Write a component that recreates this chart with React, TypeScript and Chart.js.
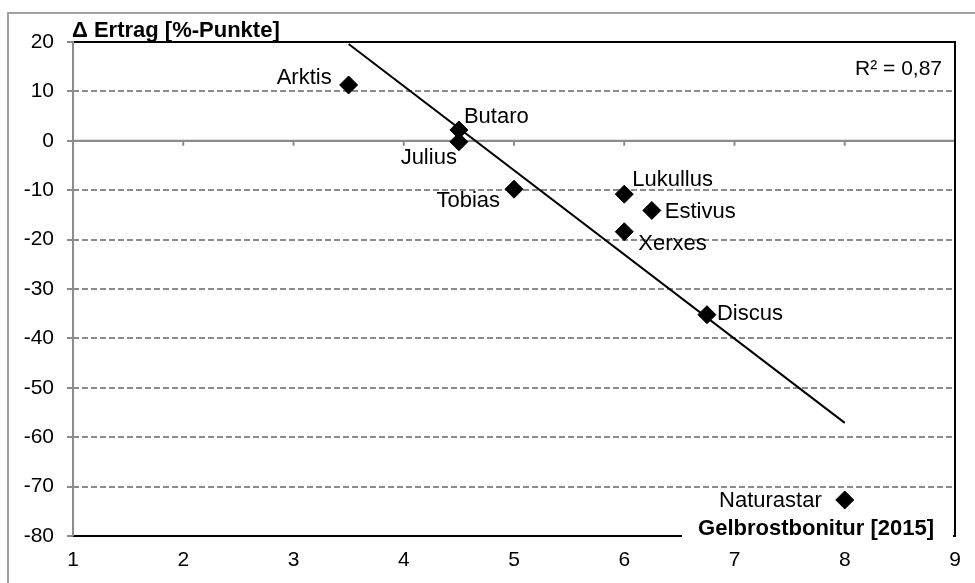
import React, { useEffect, useRef } from "react";
import { Chart, registerables } from "chart.js";

Chart.register(...registerables);

// ---- data ----
const varieties = ["Arktis", "Butaro", "Julius", "Tobias", "Lukullus", "Estivus", "Xerxes", "Discus", "Naturastar"];
const rustScores = [3.5, 4.5, 4.5, 5, 6, 6.25, 6, 6.75, 8];
const yieldDelta = [11.3, 2.2, -0.2, -9.8, -10.8, -14.1, -18.4, -35.2, -72.7];
const trendX = [3.5, 8];
const trendY = [19.6, -57.1];
const xTicks = [1, 2, 3, 4, 5, 6, 7, 8, 9];
const yTicks = [20, 10, 0, -10, -20, -30, -40, -50, -60, -70, -80];
const yTitle = "Δ Ertrag [%-Punkte]";
const xTitle = "Gelbrostbonitur [2015]";
const r2Text = "R² = 0,87";

// ---- label placement (style) ----
const labelPlacement: { align: CanvasTextAlign; dx: number; dy: number }[] = [
  { align: "right", dx: -17, dy: -8 },
  { align: "left", dx: 5, dy: -14 },
  { align: "right", dx: -2, dy: 15 },
  { align: "right", dx: -14, dy: 11 },
  { align: "left", dx: 8, dy: -15 },
  { align: "left", dx: 13, dy: 0 },
  { align: "left", dx: 14, dy: 11 },
  { align: "left", dx: 10, dy: -2 },
  { align: "right", dx: -23, dy: 0 },
];

const FONT = "'Liberation Sans', Arial, sans-serif";
const GRID = "#8c8c8c";

const decorPlugin = {
  id: "decor",
  beforeDatasetsDraw(chart: any) {
    const { ctx, chartArea: a, scales } = chart;
    const x = scales.x;
    const y = scales.y;
    const y0 = y.getPixelForValue(0);
    ctx.save();
    ctx.setLineDash([]);
    // zero line
    ctx.strokeStyle = GRID;
    ctx.lineWidth = 2;
    ctx.beginPath();
    ctx.moveTo(a.left, y0);
    ctx.lineTo(a.right, y0);
    ctx.stroke();
    // tick marks on zero line
    xTicks.forEach((v) => {
      const px = x.getPixelForValue(v);
      ctx.beginPath();
      ctx.moveTo(px, y0);
      ctx.lineTo(px, y0 + 5);
      ctx.stroke();
    });
    // plot frame: top, right, bottom black
    ctx.strokeStyle = "#000";
    ctx.lineWidth = 2;
    ctx.beginPath();
    ctx.moveTo(a.left, a.top);
    ctx.lineTo(a.right, a.top);
    ctx.lineTo(a.right, a.bottom);
    ctx.lineTo(a.left, a.bottom);
    ctx.stroke();
    // left axis gray
    ctx.strokeStyle = GRID;
    ctx.beginPath();
    ctx.moveTo(a.left, a.top - 1);
    ctx.lineTo(a.left, a.bottom);
    ctx.stroke();
    ctx.restore();
  },
  afterDraw(chart: any) {
    const { ctx, chartArea: a } = chart;
    ctx.save();
    // outer border
    ctx.strokeStyle = "#a0a0a0";
    ctx.lineWidth = 2;
    ctx.beginPath();
    ctx.moveTo(8, chart.height + 5);
    ctx.lineTo(8, 13);
    ctx.lineTo(chart.width + 5, 13);
    ctx.stroke();

    // x title with white box
    ctx.fillStyle = "#fff";
    ctx.fillRect(682, a.bottom - 22, a.right - 2 - 682, 32);
    ctx.fillStyle = "#000";
    ctx.font = `bold 22px ${FONT}`;
    ctx.textAlign = "right";
    ctx.textBaseline = "alphabetic";
    ctx.fillText(xTitle, 934, a.bottom - 1);

    // y title
    ctx.textAlign = "left";
    ctx.fillText(yTitle, a.left - 1, a.top - 5);

    // R²
    ctx.font = `21px ${FONT}`;
    ctx.textAlign = "right";
    ctx.textBaseline = "middle";
    ctx.fillText(r2Text, 942, 69);

    // point labels
    const meta = chart.getDatasetMeta(0);
    ctx.font = `22px ${FONT}`;
    ctx.textBaseline = "middle";
    meta.data.forEach((pt: any, i: number) => {
      const p = labelPlacement[i];
      ctx.textAlign = p.align;
      ctx.fillText(varieties[i], pt.x + p.dx, pt.y + p.dy + 1);
    });
    ctx.restore();
  },
};

export default function App() {
  const ref = useRef<HTMLCanvasElement | null>(null);
  useEffect(() => {
    if (!ref.current) return;
    const chart = new Chart(ref.current, {
      type: "scatter",
      data: {
        datasets: [
          {
            label: "Sorten",
            data: rustScores.map((v, i) => ({ x: v, y: yieldDelta[i] })),
            pointStyle: "rectRot",
            pointRadius: 9,
            pointHoverRadius: 9,
            backgroundColor: "#000",
            borderColor: "#000",
            borderWidth: 1,
            showLine: false,
          },
          {
            label: "Trend",
            data: trendX.map((v, i) => ({ x: v, y: trendY[i] })),
            showLine: true,
            pointRadius: 0,
            borderColor: "#000",
            borderWidth: 2,
            fill: false,
          },
        ],
      },
      options: {
        responsive: false,
        animation: false,
        events: [],
        layout: { padding: { top: 42, right: 20, left: 0, bottom: 0 } },
        plugins: {
          legend: { display: false },
          tooltip: { enabled: false },
          title: { display: false },
        },
        scales: {
          x: {
            type: "linear",
            min: 1,
            max: 9,
            afterFit: (s: any) => {
              s.height = 47;
            },
            afterBuildTicks: (s: any) => {
              s.ticks = xTicks.map((v) => ({ value: v }));
            },
            ticks: {
              stepSize: 1,
              color: "#000",
              font: { family: FONT, size: 21 },
              padding: 12,
              maxRotation: 0,
              autoSkip: false,
            },
            grid: { display: false, drawTicks: false },
            border: { display: false },
          },
          y: {
            type: "linear",
            min: -80,
            max: 20,
            afterFit: (s: any) => {
              s.width = 73;
            },
            afterBuildTicks: (s: any) => {
              s.ticks = yTicks.map((v) => ({ value: v }));
            },
            ticks: {
              stepSize: 10,
              color: "#000",
              font: { family: FONT, size: 21 },
              padding: 13,
              autoSkip: false,
            },
            grid: {
              color: GRID,
              lineWidth: 2,
              drawTicks: true,
              tickLength: 6,
              tickColor: GRID,
              tickWidth: 2,
            },
            border: {
              display: false,
              dash: (c: any) => (c.tick && c.tick.value !== 0 ? [6, 3] : []),
            },
          },
        },
      },
      plugins: [decorPlugin],
    } as any);
    return () => chart.destroy();
  }, []);
  return (
    <div style={{ position: "fixed", left: 0, top: 0, width: 975, height: 583, background: "#fff" }}>
      <canvas ref={ref} width={975} height={583} style={{ display: "block" }} />
    </div>
  );
}
